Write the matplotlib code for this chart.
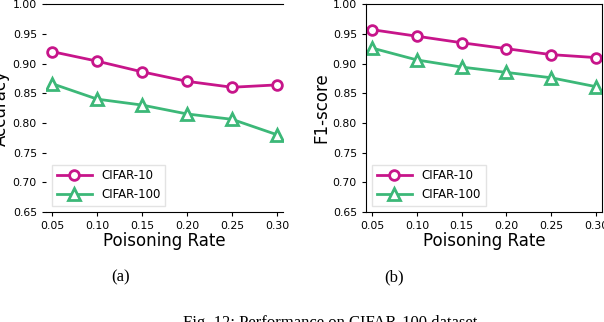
import matplotlib
matplotlib.use("Agg")
import matplotlib.pyplot as plt

rates = [0.05, 0.10, 0.15, 0.20, 0.25, 0.30]
xtick_labels = ["0.05", "0.10", "0.15", "0.20", "0.25", "0.30"]
acc_c10 = [0.920, 0.904, 0.886, 0.870, 0.860, 0.864]
acc_c100 = [0.866, 0.840, 0.830, 0.815, 0.806, 0.780]
f1_c10 = [0.957, 0.946, 0.935, 0.925, 0.915, 0.910]
f1_c100 = [0.926, 0.906, 0.894, 0.885, 0.876, 0.861]
series_names = ["CIFAR-10", "CIFAR-100"]
yticks = [0.65, 0.70, 0.75, 0.80, 0.85, 0.90, 0.95, 1.00]

c_mag = "#c7158a"
c_grn = "#3cb878"

fig = plt.figure(figsize=(6.04, 3.22), dpi=100)
ax1 = fig.add_axes([0.076, 0.342, 0.393, 0.645])
ax2 = fig.add_axes([0.606, 0.342, 0.391, 0.645])

for ax, d10, d100, ylab in [(ax1, acc_c10, acc_c100, "Accuracy"),
                            (ax2, f1_c10, f1_c100, "F1-score")]:
    ax.plot(rates, d10, color=c_mag, lw=2, marker="o", ms=7, mfc="white",
            mew=2, label=series_names[0])
    ax.plot(rates, d100, color=c_grn, lw=2, marker="^", ms=8, mfc="white",
            mew=2, label=series_names[1])
    ax.set_ylim(0.65, 1.00)
    ax.set_xlim(0.043, 0.307)
    ax.set_xticks(rates)
    ax.set_xticklabels(xtick_labels)
    ax.set_yticks(yticks)
    ax.set_yticklabels([f"{v:.2f}" for v in yticks])
    ax.tick_params(labelsize=7.8, length=3)
    ax.set_xlabel("Poisoning Rate", fontsize=12, labelpad=1)
    ax.set_ylabel(ylab, fontsize=12, labelpad=2)
    ax.legend(loc="lower left", fontsize=8.5, frameon=True, fancybox=False,
              edgecolor="#dddddd", handlelength=3)

for s in ["left", "right"]:
    ax1.spines[s].set_visible(False)

fig.text(0.2, 0.137, "(a)", ha="center", va="center", fontsize=12,
         family="Liberation Serif")
fig.text(0.653, 0.137, "(b)", ha="center", va="center", fontsize=12,
         family="Liberation Serif")
fig.text(0.55, -0.003, "Fig. 12: Performance on CIFAR-100 dataset.",
         ha="center", va="center", fontsize=12, family="Liberation Serif")

fig.savefig("out.png", dpi=100)
